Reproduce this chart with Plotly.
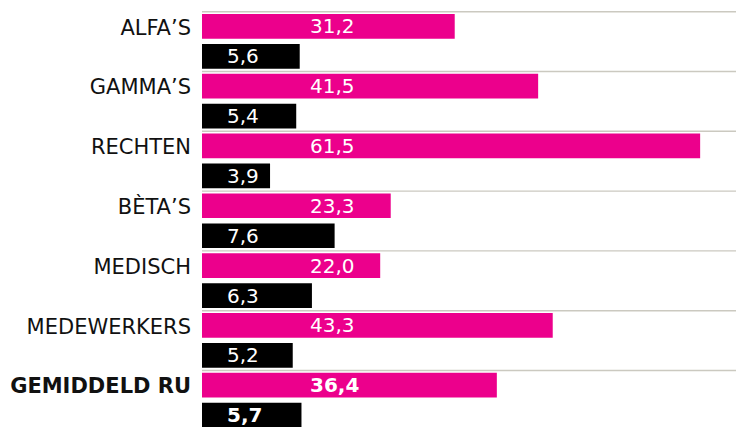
import plotly.graph_objects as go

categories = ["ALFA’S", "GAMMA’S", "RECHTEN", "BÈTA’S", "MEDISCH", "MEDEWERKERS", "GEMIDDELD RU"]
pink_values = [31.2, 41.5, 61.5, 23.3, 22.0, 43.3, 36.4]
black_values = [5.6, 5.4, 3.9, 7.6, 6.3, 5.2, 5.7]
highlight = "GEMIDDELD RU"

PINK = "#EC008C"
BLACK = "#000000"
GRID = "#cbc9c0"
FONT = "DejaVu Sans"

W, H = 736, 427
L = 202
plot_w = W - L
pink_px_per_unit = 8.1
black_px_per_unit = 17.45
group_px = 59.8
top_grid_px = 11.7

n = len(categories)
idx = list(range(n))
pink_off, black_off, bar_w = 0.245, 0.747, 0.413
pink_y = [i + pink_off for i in idx]
black_y = [i + black_off for i in idx]

def fmt(v):
    return f"{v:.1f}".replace(".", ",")

def bold(s, cat):
    return f"<b>{s}</b>" if cat == highlight else s

fig = go.Figure()
fig.add_trace(go.Bar(
    x=pink_values, y=pink_y, orientation="h", width=bar_w,
    marker=dict(color=PINK, line=dict(width=0)), xaxis="x", yaxis="y",
    hoverinfo="skip", showlegend=False,
))
fig.add_trace(go.Bar(
    x=black_values, y=black_y, orientation="h", width=bar_w,
    marker=dict(color=BLACK, line=dict(width=0)), xaxis="x2", yaxis="y",
    hoverinfo="skip", showlegend=False,
))

annotations = []
for cat, pv, bv, py, by in zip(categories, pink_values, black_values, pink_y, black_y):
    annotations.append(dict(
        x=(308 - L) / plot_w, xref="paper", y=py, yref="y",
        text=bold(fmt(pv), cat), showarrow=False, xanchor="left", yanchor="middle",
        font=dict(family=FONT, size=20, color="white"),
    ))
    annotations.append(dict(
        x=(225 - L) / plot_w, xref="paper", y=by, yref="y",
        text=bold(fmt(bv), cat), showarrow=False, xanchor="left", yanchor="middle",
        font=dict(family=FONT, size=20, color="white"),
    ))

shapes = [
    dict(type="line", xref="paper", x0=0, x1=1, yref="y", y0=i, y1=i,
         line=dict(color=GRID, width=1.4), layer="below")
    for i in idx
]

y_top = -top_grid_px / group_px
y_bottom = (H - top_grid_px) / group_px

fig.update_layout(
    width=W, height=H,
    margin=dict(l=L, r=0, t=0, b=0),
    paper_bgcolor="white", plot_bgcolor="white",
    barmode="overlay",
    xaxis=dict(range=[0, plot_w / pink_px_per_unit], visible=False, fixedrange=True),
    xaxis2=dict(range=[0, plot_w / black_px_per_unit], overlaying="x", visible=False, fixedrange=True),
    yaxis=dict(
        range=[y_bottom, y_top],
        tickvals=[i + 0.26 for i in idx],
        ticktext=[bold(c, c) for c in categories],
        tickfont=dict(family=FONT, size=21, color="#111111"),
        showgrid=False, zeroline=False, showline=False,
        ticks="", ticklabelstandoff=10, fixedrange=True,
    ),
    shapes=shapes,
    annotations=annotations,
)

fig.write_html(
    "out.html",
    config={"displayModeBar": False},
    post_script="document.body.style.margin='0';document.body.style.overflow='hidden';",
)
